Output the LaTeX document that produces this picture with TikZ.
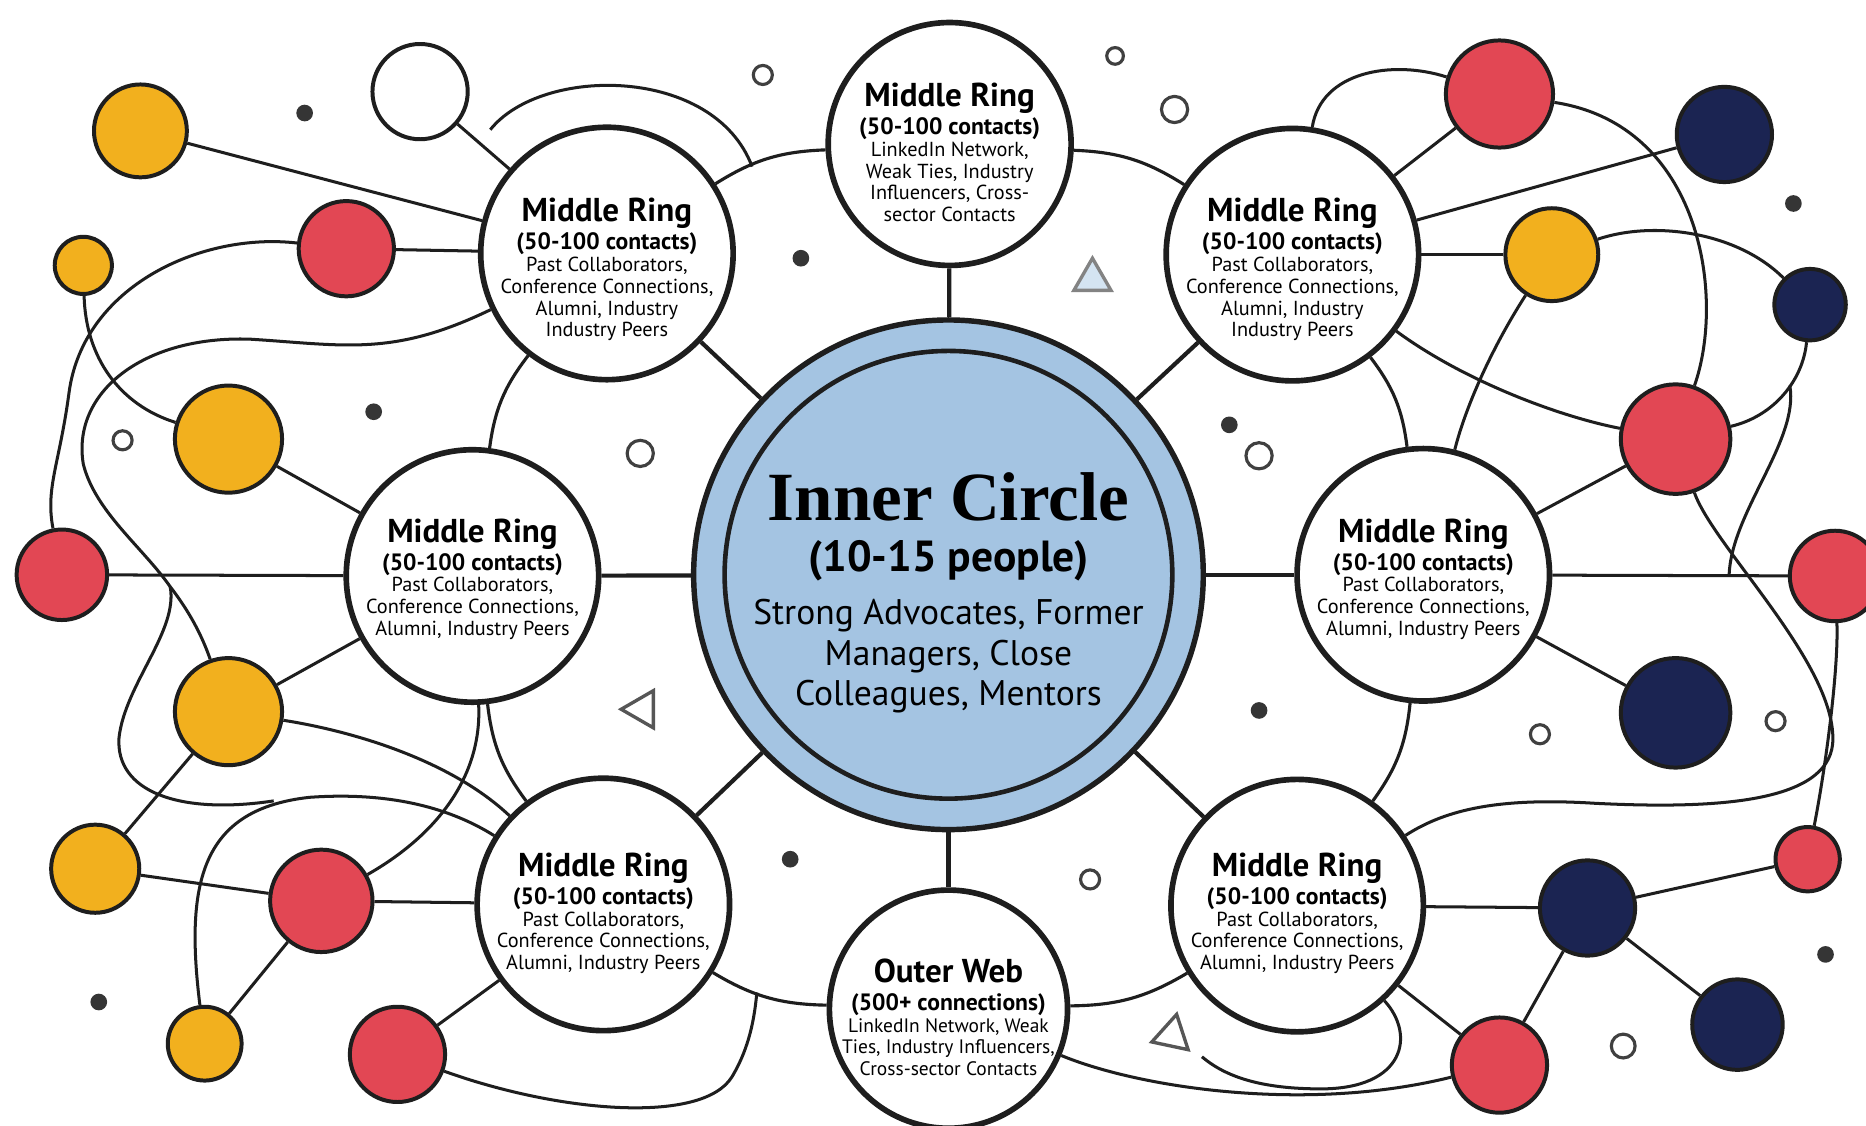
\documentclass[tikz,border=0pt]{standalone}
\usepackage{fontspec}
\setmainfont{PT Sans}
\newfontfamily\headserif{Liberation Serif}
\usetikzlibrary{shapes.geometric}

\definecolor{hubblue}{RGB}{164,196,226}
\definecolor{cYel}{RGB}{242,176,30}
\definecolor{cRed}{RGB}{226,71,84}
\definecolor{cNavy}{RGB}{27,36,82}
\definecolor{ink}{RGB}{30,30,30}
\definecolor{paleblue}{RGB}{212,228,242}

% title, count, description lines of a ring node
\newcommand{\ringtext}[4][4.85]{%
  {\bfseries\fontsize{7.9}{8}\selectfont #2\par}%
  {\bfseries\fontsize{5.65}{6.7}\selectfont #3\par}%
  {\fontsize{#1}{5.2}\selectfont #4\par}}

\begin{document}
\begin{tikzpicture}[
  x=0.01cm,y=0.01cm,
  hub/.style={circle,draw=ink,line width=1.3pt,fill=hubblue,inner sep=0pt,minimum size=4.28cm},
  ring/.style={circle,draw=ink,line width=1.35pt,fill=white,inner sep=0pt,minimum size=2.12cm},
  hublab/.style={text width=4cm,align=flush center,inner sep=0pt,anchor=north},
  mrlab/.style={text width=2.4cm,align=flush center,inner sep=0pt,anchor=north},
  dotbase/.style={circle,draw=ink,line width=0.95pt,inner sep=0pt},
  ydot/.style={dotbase,fill=cYel,minimum size=#1},
  rdot/.style={dotbase,fill=cRed,minimum size=#1},
  ndot/.style={dotbase,fill=cNavy,minimum size=#1},
  wdot/.style={dotbase,fill=white,minimum size=#1},
  speck/.style={circle,fill=ink!90,inner sep=0pt,minimum size=0.14cm},
  hole/.style={circle,draw=ink!85,line width=0.75pt,fill=white,inner sep=0pt,minimum size=#1},
  tri/.style={regular polygon,regular polygon sides=3,draw=ink!75,line width=0.8pt,inner sep=0pt,minimum size=0.36cm},
  spoke/.style={draw=ink,line width=1pt},
  rim/.style={draw=ink,line width=0.75pt,bend left=15},
  wire/.style={draw=ink,line width=0.72pt},
]
  \useasboundingbox (0,0) rectangle (1568,-946);
  \clip (0,0) rectangle (1568,-946);
  \fill[white] (0,0) rectangle (1568,-946);

  % hub and rings
  \node[hub] (hub) at (797,-483) {};
  \draw[ink,line width=1.1pt] (hub.center) circle[radius=1.88cm];
  \node[ring] (mrTL) at (510,-213) {};
  \node[ring,minimum size=2.04cm] (mrT) at (798,-121) {};
  \node[ring] (mrTR) at (1086,-214) {};
  \node[ring] (mrL) at (397,-484) {};
  \node[ring] (mrR) at (1196,-483) {};
  \node[ring] (mrBL) at (507,-760) {};
  \node[ring] (mrBR) at (1090,-761) {};
  \node[ring,minimum size=2cm] (ow) at (797,-848) {};

  % coloured contacts, left
  \node[ydot=0.78cm] (ya) at (118,-110) {};
  \node[wdot=0.80cm] (wa) at (353,-77) {};
  \node[rdot=0.80cm] (ra) at (291,-209) {};
  \node[ydot=0.48cm] (yb) at (70,-223) {};
  \node[ydot=0.90cm] (yc) at (192,-369) {};
  \node[rdot=0.76cm] (rb) at (52,-483) {};
  \node[ydot=0.90cm] (yd) at (192,-598) {};
  \node[ydot=0.74cm] (ye) at (80,-730) {};
  \node[rdot=0.86cm] (rc) at (270,-757) {};
  \node[ydot=0.62cm] (yf) at (172,-877) {};
  \node[rdot=0.80cm] (rd) at (334,-886) {};
  % coloured contacts, right
  \node[rdot=0.90cm] (re) at (1260,-79) {};
  \node[ndot=0.80cm] (na) at (1449,-113) {};
  \node[ydot=0.78cm] (yg) at (1304,-214) {};
  \node[ndot=0.60cm] (nb) at (1521,-256) {};
  \node[rdot=0.92cm] (rf) at (1408,-369) {};
  \node[rdot=0.76cm] (rg) at (1542,-484) {};
  \node[ndot=0.92cm] (nc) at (1408,-599) {};
  \node[rdot=0.54cm] (rh) at (1519,-722) {};
  \node[ndot=0.80cm] (nd) at (1334,-763) {};
  \node[ndot=0.76cm] (ne) at (1460,-861) {};
  \node[rdot=0.80cm] (ri) at (1260,-895) {};

  % specks, holes, triangles
  \foreach \x/\y [count=\i] in {256/-95,314/-346,673/-217,664/-722,83/-842,1033/-357,1058/-597,1534/-802,1507/-171}
    \node[speck] (s\i) at (\x,\y) {};
  \foreach \x/\y/\d [count=\i] in {103/-370/0.16cm,538/-381/0.22cm,641/-63/0.16cm,937/-47/0.14cm,987/-92/0.22cm,1058/-383/0.22cm,916/-739/0.16cm,1294/-617/0.16cm,1492/-606/0.16cm,1364/-879/0.20cm}
    \node[hole=\d] (h\i) at (\x,\y) {};
  \node[tri,fill=white,rotate=90] (t1) at (540,-596) {};
  \node[tri,fill=paleblue,draw=ink!55] (t2) at (918,-235) {};
  \node[tri,fill=white,rotate=-12] (t3) at (985,-870) {};

  % spokes and the ring between the rings
  \foreach \m in {mrTL,mrT,mrTR,mrL,mrR,mrBL,ow,mrBR}
    \draw[spoke] (hub) -- (\m);
  \foreach \a/\b in {mrTL/mrT,mrT/mrTR,mrTR/mrR,mrR/mrBR,mrBR/ow,ow/mrBL,mrBL/mrL,mrL/mrTL}
    \draw[rim] (\a) to (\b);

  % straight ties
  \foreach \a/\b in {ya/mrTL,wa/mrTL,ra/mrTL,yc/mrL,rb/mrL,yd/mrL,yd/ye,ye/rc,rc/mrBL,rc/yf,rd/mrBL,
                     re/mrTR,na/mrTR,yg/mrTR,rf/mrR,rg/mrR,nc/mrR,rh/nd,nd/mrBR,nd/ne,nd/ri,ri/mrBR}
    \draw[wire] (\a) -- (\b);

  % free ends of the loose wires
  \coordinate (c1a) at (412,-109);
  \coordinate (c1b) at (632,-140);
  \coordinate (c5a) at (143,-493);
  \coordinate (c5b) at (230,-673);
  \coordinate (c9) at (636,-834);
  \coordinate (c11) at (1010,-888);
  \coordinate (c20a) at (1504,-324);
  \coordinate (c20b) at (1453,-483);

  % loose wires, left
  \draw[wire] (c1a) .. controls (455,-55) and (600,-55) .. (c1b);
  \draw[wire] (ra) .. controls (170,-195) and (70,-240) .. (58,-330) .. controls (50,-390) and (38,-410) .. (rb);
  \draw[wire] (yb) .. controls (72,-300) and (100,-340) .. (yc);
  \draw[wire] (mrTL) .. controls (330,-300) and (290,-290) .. (210,-285)
    .. controls (120,-282) and (60,-330) .. (70,-390)
    .. controls (80,-430) and (120,-460) .. (c5a)
    .. controls (160,-515) and (170,-535) .. (yd);
  \draw[wire] (c5a) .. controls (150,-530) and (105,-575) .. (100,-620) .. controls (97,-665) and (150,-685) .. (c5b);
  \draw[wire] (yf) .. controls (155,-740) and (170,-680) .. (260,-670) .. controls (330,-665) and (380,-680) .. (mrBL);
  \draw[wire] (yd) .. controls (300,-615) and (380,-640) .. (mrBL);
  \draw[wire] (rc) .. controls (370,-700) and (405,-650) .. (mrL);
  \draw[wire] (rd) .. controls (470,-935) and (590,-945) .. (615,-905) .. controls (630,-880) and (634,-855) .. (c9);

  % loose wires, right
  \draw[wire] (ow) .. controls (960,-915) and (1100,-935) .. (ri);
  \draw[wire] (mrBR) .. controls (1190,-870) and (1180,-915) .. (1110,-915) .. controls (1060,-915) and (1030,-905) .. (c11);
  \draw[wire] (rf) .. controls (1440,-460) and (1545,-560) .. (1540,-625)
    .. controls (1535,-675) and (1440,-680) .. (1340,-675)
    .. controls (1260,-670) and (1215,-680) .. (mrBR);
  \draw[wire] (rg) .. controls (1545,-560) and (1535,-640) .. (rh);
  \draw[wire] (re) .. controls (1430,-105) and (1450,-250) .. (rf);
  \draw[wire] (mrTR) .. controls (1110,-60) and (1170,-50) .. (re);
  \draw[wire] (yg) .. controls (1390,-185) and (1460,-195) .. (nb);
  \draw[wire] (yg) .. controls (1255,-290) and (1232,-340) .. (mrR);
  \draw[wire] (mrTR) .. controls (1230,-320) and (1310,-350) .. (rf);
  \draw[wire] (nb) .. controls (1515,-320) and (1490,-350) .. (rf);
  \draw[wire] (c20a) .. controls (1512,-370) and (1455,-430) .. (c20b);

  % texts
  \node[hublab] (hubtxt) at (797,-396) {%
    {\headserif\bfseries\fontsize{16.5}{18}\selectfont Inner Circle\par}%
    {\bfseries\fontsize{10.4}{12.2}\selectfont (10-15 people)\par}%
    {\fontsize{8.5}{12.8}\selectfont Strong Advocates, Former\par}%
    {\fontsize{8.5}{9.7}\selectfont Managers, Close\\Colleagues, Mentors\par}};
  \node[mrlab] (mrTLtxt) at (510,-166) {\ringtext{Middle Ring}{(50-100 contacts)}{Past Collaborators,\\Conference Connections,\\Alumni, Industry\\Industry Peers}};
  \node[mrlab] (mrTtxt) at (798,-69) {\ringtext{Middle Ring}{(50-100 contacts)}{LinkedIn Network,\\Weak Ties, Industry\\Influencers, Cross-\\sector Contacts}};
  \node[mrlab] (mrTRtxt) at (1086,-166) {\ringtext{Middle Ring}{(50-100 contacts)}{Past Collaborators,\\Conference Connections,\\Alumni, Industry\\Industry Peers}};
  \node[mrlab] (mrLtxt) at (397,-435) {\ringtext{Middle Ring}{(50-100 contacts)}{Past Collaborators,\\Conference Connections,\\Alumni, Industry Peers}};
  \node[mrlab] (mrRtxt) at (1196,-435) {\ringtext{Middle Ring}{(50-100 contacts)}{Past Collaborators,\\Conference Connections,\\Alumni, Industry Peers}};
  \node[mrlab] (mrBLtxt) at (507,-716) {\ringtext{Middle Ring}{(50-100 contacts)}{Past Collaborators,\\Conference Connections,\\Alumni, Industry Peers}};
  \node[mrlab] (mrBRtxt) at (1090,-716) {\ringtext{Middle Ring}{(50-100 contacts)}{Past Collaborators,\\Conference Connections,\\Alumni, Industry Peers}};
  \node[mrlab] (owtxt) at (797,-805) {\ringtext[4.65]{Outer Web}{(500+ connections)}{LinkedIn Network, Weak\\Ties, Industry Influencers,\\Cross-sector Contacts}};
\end{tikzpicture}
\end{document}
